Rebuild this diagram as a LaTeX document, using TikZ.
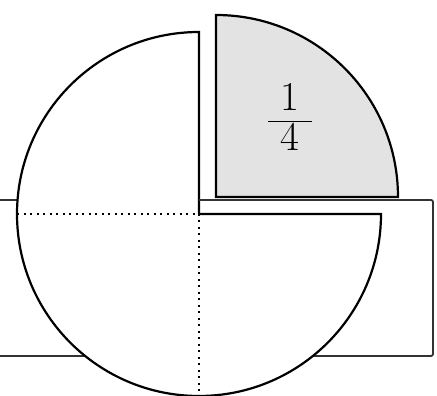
\documentclass[tikz,border=0pt]{standalone}
\begin{document}
\begin{tikzpicture}[x=1pt,y=1pt,
  outline/.style={line width=2.2pt, line join=miter},
  dotline/.style={line width=2pt, dash pattern=on 2pt off 4.5pt},
  backrect/.style={draw=black!80, line width=1.8pt, fill=white, rounded corners=2pt},
  graypiece/.style={fill=black!11},
  whitepiece/.style={fill=white}]
\useasboundingbox (0,0) rectangle (437,396);
% background rectangle
\draw[backrect] (-10,40) rectangle (433,196);
% three white quarters
\fill[whitepiece] (199,182) circle[radius=182];
\fill[white] (199,182) rectangle (390,370);
% top-left quarter
\draw[outline] (199,182) -- (199,364) arc[start angle=90,end angle=180,radius=182];
% bottom-left quarter arc
\draw[outline] (17,182) arc[start angle=180,end angle=270,radius=182];
% bottom-right quarter
\draw[outline] (199,182) -- (381,182) arc[start angle=0,end angle=-90,radius=182];
% dotted division lines
\coordinate (ctr) at (199,182);
\coordinate (lft) at (17,182);
\coordinate (bot) at (199,1);
\draw[dotline] (lft) -- (ctr);
\draw[dotline] (ctr) -- (bot);
% rectangle top edge visible in gap
\draw[draw=black!80, line width=1.8pt] (199,196) -- (431,196);
% gray quarter
\filldraw[graypiece, outline] (216,199) -- (216,381) arc[start angle=90,end angle=0,radius=182] -- cycle;
\node (frac) at (290,279) {\fontsize{41}{49}\selectfont$\displaystyle\frac{\hbox to 44pt{\hss 1\hss}}{\hbox to 44pt{\hss 4\hss}}$};
\end{tikzpicture}
\end{document}
